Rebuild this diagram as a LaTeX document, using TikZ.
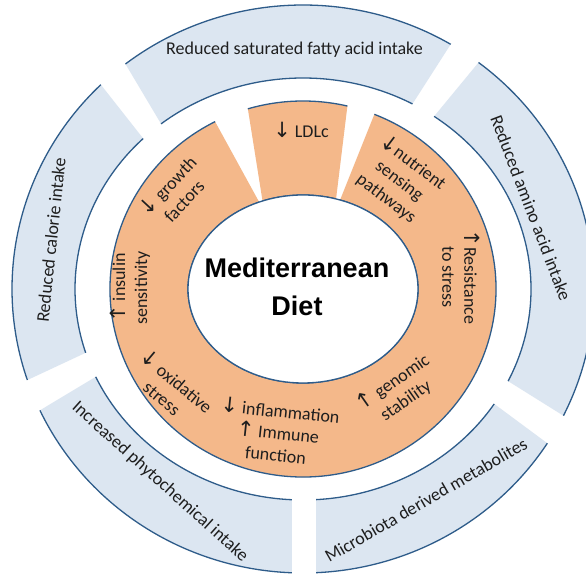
\documentclass[tikz,border=0pt]{standalone}
\usepackage{fontspec}
\setmainfont{Carlito}
\newfontfamily\headfont{Liberation Sans}
\newfontfamily\arrowfont{DejaVu Sans}
\definecolor{bluefill}{HTML}{DCE6F1}
\definecolor{orangefill}{HTML}{F4B88A}
\definecolor{edgeblue}{HTML}{2E5C8A}
\definecolor{txt}{HTML}{1E1E1E}
\newcommand\dn{{\arrowfont\fontsize{21}{22}\selectfont ↓}}
\newcommand\up{{\arrowfont\fontsize{21}{22}\selectfont ↑}}
% ring segment: fill, outer start, outer end, inner start, inner end, Rx, Ry, rx, ry
\newcommand\ringseg[9]{%
  \fill[#1] (#2:#6 and #7) arc[start angle=#2, end angle=#3, x radius=#6, y radius=#7]
     -- (#5:#8 and #9) arc[start angle=#5, end angle=#4, x radius=#8, y radius=#9] -- cycle;
  \draw[edge] (#2:#6 and #7) arc[start angle=#2, end angle=#3, x radius=#6, y radius=#7];
  \draw[edge] (#4:#8 and #9) arc[start angle=#4, end angle=#5, x radius=#8, y radius=#9];
}
\tikzset{
  edge/.style={draw=edgeblue, line width=1.3pt},
  lab/.style={font=\fontsize{18}{22}\selectfont, text=txt, align=center, inner sep=0pt},
  outerlab/.style={font=\fontsize{18}{22}\selectfont, text=txt, inner sep=0pt},
}
\begin{document}
\begin{tikzpicture}[x=1pt,y=1pt]
\useasboundingbox (0,0) rectangle (586,577);
\clip (0,0) rectangle (586,577);
\fill[white] (0,0) rectangle (586,577);
\begin{scope}[shift={(303pt,288pt)}]
  % outer blue ring
  \ringseg{bluefill}{59.5}{127.6}{61.3}{128.5}{291pt}{284pt}{228pt}{211pt}
  \ringseg{bluefill}{134.0}{198.7}{134.5}{197.6}{291pt}{284pt}{228pt}{211pt}
  \ringseg{bluefill}{205.3}{267.8}{204.6}{267.2}{291pt}{284pt}{228pt}{211pt}
  \ringseg{bluefill}{272.6}{327.1}{273.3}{327.0}{291pt}{284pt}{228pt}{211pt}
  \ringseg{bluefill}{333.5}{412.9}{334.1}{414.9}{291pt}{284pt}{228pt}{211pt}
  % orange ring
  \ringseg{orangefill}{76.7}{106.6}{73.3}{110.6}{193pt}{188pt}{115pt}{94pt}
  \ringseg{orangefill}{117.1}{428.3}{112.4}{431.2}{193pt}{188pt}{115pt}{94pt}
  % centre ellipse
  \filldraw[fill=white, edge] (0,0) ellipse[x radius=115pt, y radius=94pt];
\end{scope}
% centre title
\node[font=\headfont\bfseries\fontsize{27}{38}\selectfont, align=center, inner sep=0pt] (title) at (297,290) {Mediterranean\\Diet};
% outer ring labels
\node[outerlab, anchor=base] (sat) at (294.5,522) {Reduced saturated fatty acid intake};
\node[outerlab, rotate=84] (cal) at (51,337) {Reduced calorie intake};
\node[outerlab, rotate=-69] (amino) at (531,369) {Reduced amino acid intake};
\node[outerlab, rotate=-42] (phyto) at (160,95) {Increased phytochemical intake};
\node[outerlab, rotate=30] (micro) at (426,77) {Microbiota derived metabolites};
% inner ring labels
\node[lab] (ldl) at (301,447) {\dn{} LDLc};
\node[lab, rotate=47] (growth) at (175,384) {\dn{} growth\\factors};
\node[lab, rotate=-37] (nutr) at (400,397) {\dn nutrient\\sensing\\pathways};
\node[lab, rotate=-90] (resist) at (461,300) {\up Resistance\\to stress};
\node[lab, rotate=35] (genom) at (399,186) {\up{} genomic\\stability};
\node[lab, rotate=-6] (infl) at (278,145) {\dn{} inflammation\\\up{} Immune\\function};
\node[lab, rotate=-40] (oxid) at (170,188) {\dn{} oxidative\\stress};
\node[lab, rotate=90] (insul) at (130,289) {\up{} insulin\\sensitivity};
\end{tikzpicture}
\end{document}
